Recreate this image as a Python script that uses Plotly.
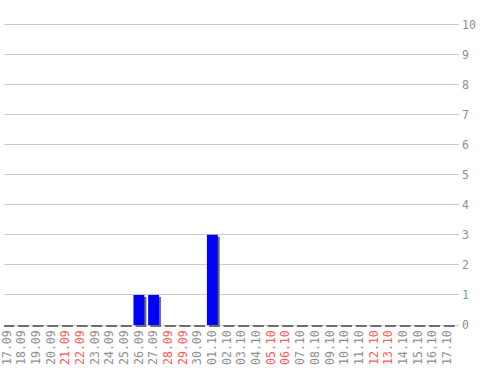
import plotly.graph_objects as go

dates = ["17.09", "18.09", "19.09", "20.09", "21.09", "22.09", "23.09", "24.09",
         "25.09", "26.09", "27.09", "28.09", "29.09", "30.09", "01.10", "02.10",
         "03.10", "04.10", "05.10", "06.10", "07.10", "08.10", "09.10", "10.10",
         "11.10", "12.10", "13.10", "14.10", "15.10", "16.10", "17.10"]
values = [0, 0, 0, 0, 0, 0, 0, 0, 0, 1, 1, 0, 0, 0, 3, 0,
          0, 0, 0, 0, 0, 0, 0, 0, 0, 0, 0, 0, 0, 0, 0]
weekends = ["21.09", "22.09", "28.09", "29.09", "05.10", "06.10", "12.10", "13.10"]
y_ticks = list(range(0, 11))

W, H = 498, 370
px_per_y = 30.0
y_lo = -2.0 / px_per_y
y_hi = 10.05
mt = 25 - (y_hi - 10) * px_per_y
mb = H - 327
ml, mr = 0, 39.3
plot_w = W - ml - mr
x0, x1 = -0.19, 30.80
px_per_x = plot_w / (x1 - x0)

bar_w = 11 / px_per_x
sx = 2 / px_per_x
sy = 2 / px_per_y

xs = list(range(len(dates)))
shadow_h = [max(v, sy) for v in values]

ticktext = [
    f"<span style='color:#ff5a5a'>{d}</span>" if d in weekends else d
    for d in dates
]

FONT = "DejaVu Sans Mono"
GRAY = "#8f8f8f"

fig = go.Figure()
fig.add_trace(go.Bar(
    x=xs, y=shadow_h, base=[-sy] * len(xs), width=bar_w,
    offset=-bar_w / 2 + sx, marker=dict(color="#6e6e6e", line=dict(width=0)),
    hoverinfo="skip", showlegend=False,
))
fig.add_trace(go.Bar(
    x=xs, y=values, width=bar_w, offset=-bar_w / 2,
    marker=dict(color="#0000ff", line=dict(width=0)), showlegend=False,
))

fig.update_layout(
    width=W, height=H, barmode="overlay",
    margin=dict(l=ml, r=mr, t=mt, b=mb, pad=0),
    paper_bgcolor="white", plot_bgcolor="white",
    font=dict(family=FONT, size=11.5, color=GRAY),
    xaxis=dict(
        range=[x0, x1], tickmode="array", tickvals=xs, ticktext=ticktext,
        tickangle=-90, showgrid=False, zeroline=False, showline=False,
        ticks="", ticklabeloverflow="allow",
        tickfont=dict(family=FONT, size=11.5, color=GRAY),
        fixedrange=True,
    ),
    yaxis=dict(
        range=[y_lo, y_hi], side="right", tickmode="array", tickvals=y_ticks,
        showgrid=True, gridcolor="#cccccc", gridwidth=1, zeroline=False,
        showline=False, ticks="", ticklabeloverflow="allow",
        ticklabelstandoff=2,
        tickfont=dict(family=FONT, size=11.5, color=GRAY),
        fixedrange=True,
    ),
)

fig.write_html("out.html")
